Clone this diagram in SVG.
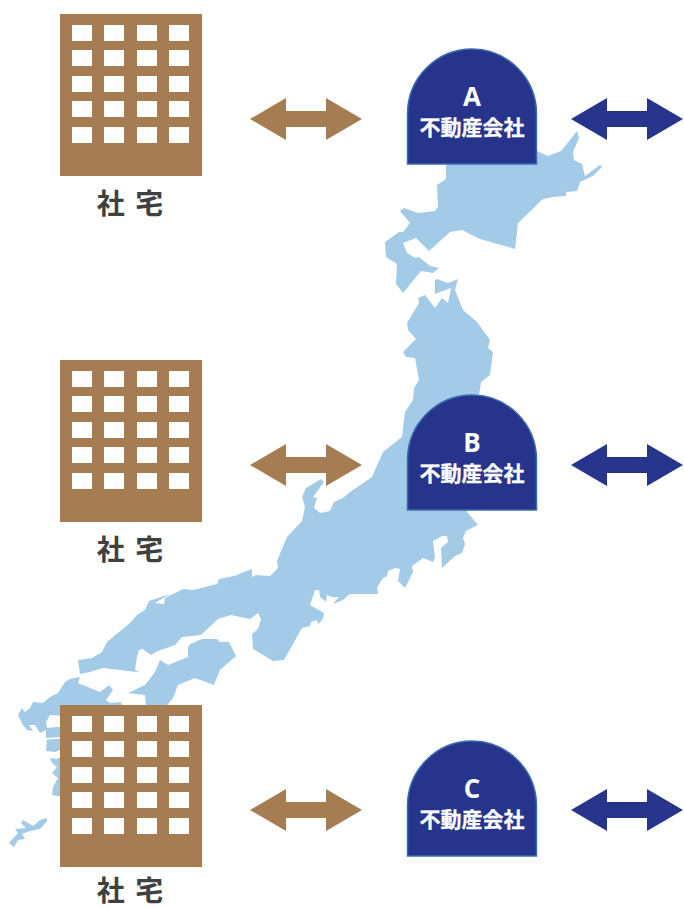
<svg xmlns="http://www.w3.org/2000/svg" width="684" height="909" viewBox="0 0 684 909">
<style>
.map{fill:#a3cbe7;fill-rule:evenodd}
.bld{fill:#a67c52}
.win{fill:#fff}
.lbl{font-family:"Noto Sans CJK JP","Noto Sans",sans-serif;font-weight:700;font-size:28px;fill:#404040;text-anchor:middle;letter-spacing:2px}
.badge{fill:#27348b;stroke:#3a6cb0;stroke-width:1.5}
.ltr{font-family:"Open Sans",sans-serif;font-weight:700;font-size:26px;fill:#fff;text-anchor:middle}
.co{font-family:"Noto Sans CJK JP",sans-serif;font-weight:700;font-size:21px;fill:#fff;stroke:#fff;stroke-width:.3;text-anchor:middle}
.ab{fill:#a67c52}
.ap{fill:#27348b}
</style>
<defs>
<g id="building">
<rect class="bld" x="60" y="14" width="142" height="162"/>
<g class="win">
<rect x="72" y="25" width="20" height="16"/><rect x="104" y="25" width="20" height="16"/><rect x="137" y="25" width="20" height="16"/><rect x="169" y="25" width="20" height="16"/>
<rect x="72" y="50" width="20" height="16"/><rect x="104" y="50" width="20" height="16"/><rect x="137" y="50" width="20" height="16"/><rect x="169" y="50" width="20" height="16"/>
<rect x="72" y="76" width="20" height="16"/><rect x="104" y="76" width="20" height="16"/><rect x="137" y="76" width="20" height="16"/><rect x="169" y="76" width="20" height="16"/>
<rect x="72" y="101" width="20" height="16"/><rect x="104" y="101" width="20" height="16"/><rect x="137" y="101" width="20" height="16"/><rect x="169" y="101" width="20" height="16"/>
<rect x="72" y="127" width="20" height="16"/><rect x="104" y="127" width="20" height="16"/><rect x="137" y="127" width="20" height="16"/><rect x="169" y="127" width="20" height="16"/>
</g>
</g>
<path id="dome" d="M407.500 164V114A64.500 65 0 0 1 536.500 114V164Z"/>
<path id="arrow" d="M0 0L36 -21V-8H76V-21L112 0L76 21V8H36V21Z"/>
</defs>
<g id="map">
<path class="map" d="M446 150V179L437 185L438 207L435 211L418 213L404 208L400 211L410 223L403 232L399 232L385 242L386 257L397 264L396 284L403 293L421 271L433 273L439 268L430 266L419 257L415 258L407 253L403 243L416 238L429 251L450 232L462 230L480 239L515 249L518 223L543 199L553 197L566 196L566 192L577 191L580 182L593 176L602 167L600 165L585 176L582 164L574 160L573 152L579 138L577 131L561 151L548 156L537 151Z"/>
<path class="map" d="M435 280L437 279L448 283L458 279L455 290L463 310L477 322L490 340L488 348L493 352L490 375L481 382L479 395L467 512L478 525L466 531L463 538L465 544L462 553L455 556L442 568L441 548L448 542L447 536L442 536L433 541L435 558L433 562L423 558L412 566L413 572L405 588L398 581L400 569L395 568L388 571L387 576L382 579L377 588L378 594L350 594L343 600L333 604L339 597L332 597L327 595L326 602L320 597L319 590L315 590L310 605L324 613L323 619L318 624L317 620L311 622L310 626L302 628L284 660L273 661L253 649L252 634L258 629L261 619L258 613L250 619L231 615L218 619L201 635L182 637L175 645L158 651L151 655L143 649L139 650L137 657L135 670L139 672L137 672L103 668L90 672L80 674L78 660L92 658L102 652L107 642L130 623L137 615L145 610L149 601L170 594L155 603L164 604L165 598L183 589L193 590L217 584L219 579L234 576L252 569L252 577L256 575L270 576L278 568L277 561L287 537L302 521L305 507L302 497L306 488L321 479L324 482L313 497L317 498L314 508L320 513L330 511L334 502L343 498L350 492L372 477L383 452L402 437L405 412L413 400L414 388L419 380L415 358L406 357L403 352L416 339L408 330L407 323L419 303L418 298L425 295L435 308L442 298L448 303L451 288L435 294Z"/>
<path class="map" d="M188 657L188 648L190 644L202 639L217 639L220 642L229 642L236 656L220 670L214 685L195 678L178 685L173 698L165 708L146 708L145 695L128 693L145 685L155 672L160 660L168 665Z"/>
<path class="map" d="M70 679L65 682L58 693L50 697L43 703L33 702L30 708L25 712L22 708L18 715L23 725L27 730L33 731L29 725L35 725L40 733L46 730L46 738L62 737L62 738.500L47 739.500L46 751L55 752L62 749L62 756L57 759L50 758L52 763L57 767L52 773L58 778L53 787L52 795L62 797L120 760L125 705L122 705L121 702L110 703L106 700L113 690L109 685L100 692L78 683L80 677ZM65 716L50 715L46 722L47 728L57 727L65 727Z"/>
<path class="map" d="M47 818L40 820L33 826L23 820L21 823L26 828L15 829L18 833L9 843L14 847L18 840L25 839L22 834L30 831L40 829L47 821Z"/>
</g>
<g id="connectors">
<use class="ab" href="#arrow" x="250" y="119"/>
<use class="ab" href="#arrow" x="250" y="465"/>
<use class="ab" href="#arrow" x="250" y="810"/>
<use class="ap" href="#arrow" x="571" y="119"/>
<use class="ap" href="#arrow" x="571" y="465"/>
<use class="ap" href="#arrow" x="571" y="810"/>
</g>
<g id="housing-1"><use href="#building"/><text class="lbl" x="131" y="214">社 宅</text></g>
<g id="housing-2"><use href="#building" y="346"/><text class="lbl" x="131" y="560">社 宅</text></g>
<g id="housing-3"><use href="#building" y="691"/><text class="lbl" x="131" y="901">社 宅</text></g>
<g id="agency-a"><use class="badge" href="#dome"/><text class="ltr" x="472" y="106">A</text><text class="co" x="472" y="135">不動産会社</text></g>
<g id="agency-b"><use class="badge" href="#dome" y="346"/><text class="ltr" x="472" y="452">B</text><text class="co" x="472" y="481">不動産会社</text></g>
<g id="agency-c"><use class="badge" href="#dome" y="692"/><text class="ltr" x="472" y="798">C</text><text class="co" x="472" y="827">不動産会社</text></g>
</svg>
